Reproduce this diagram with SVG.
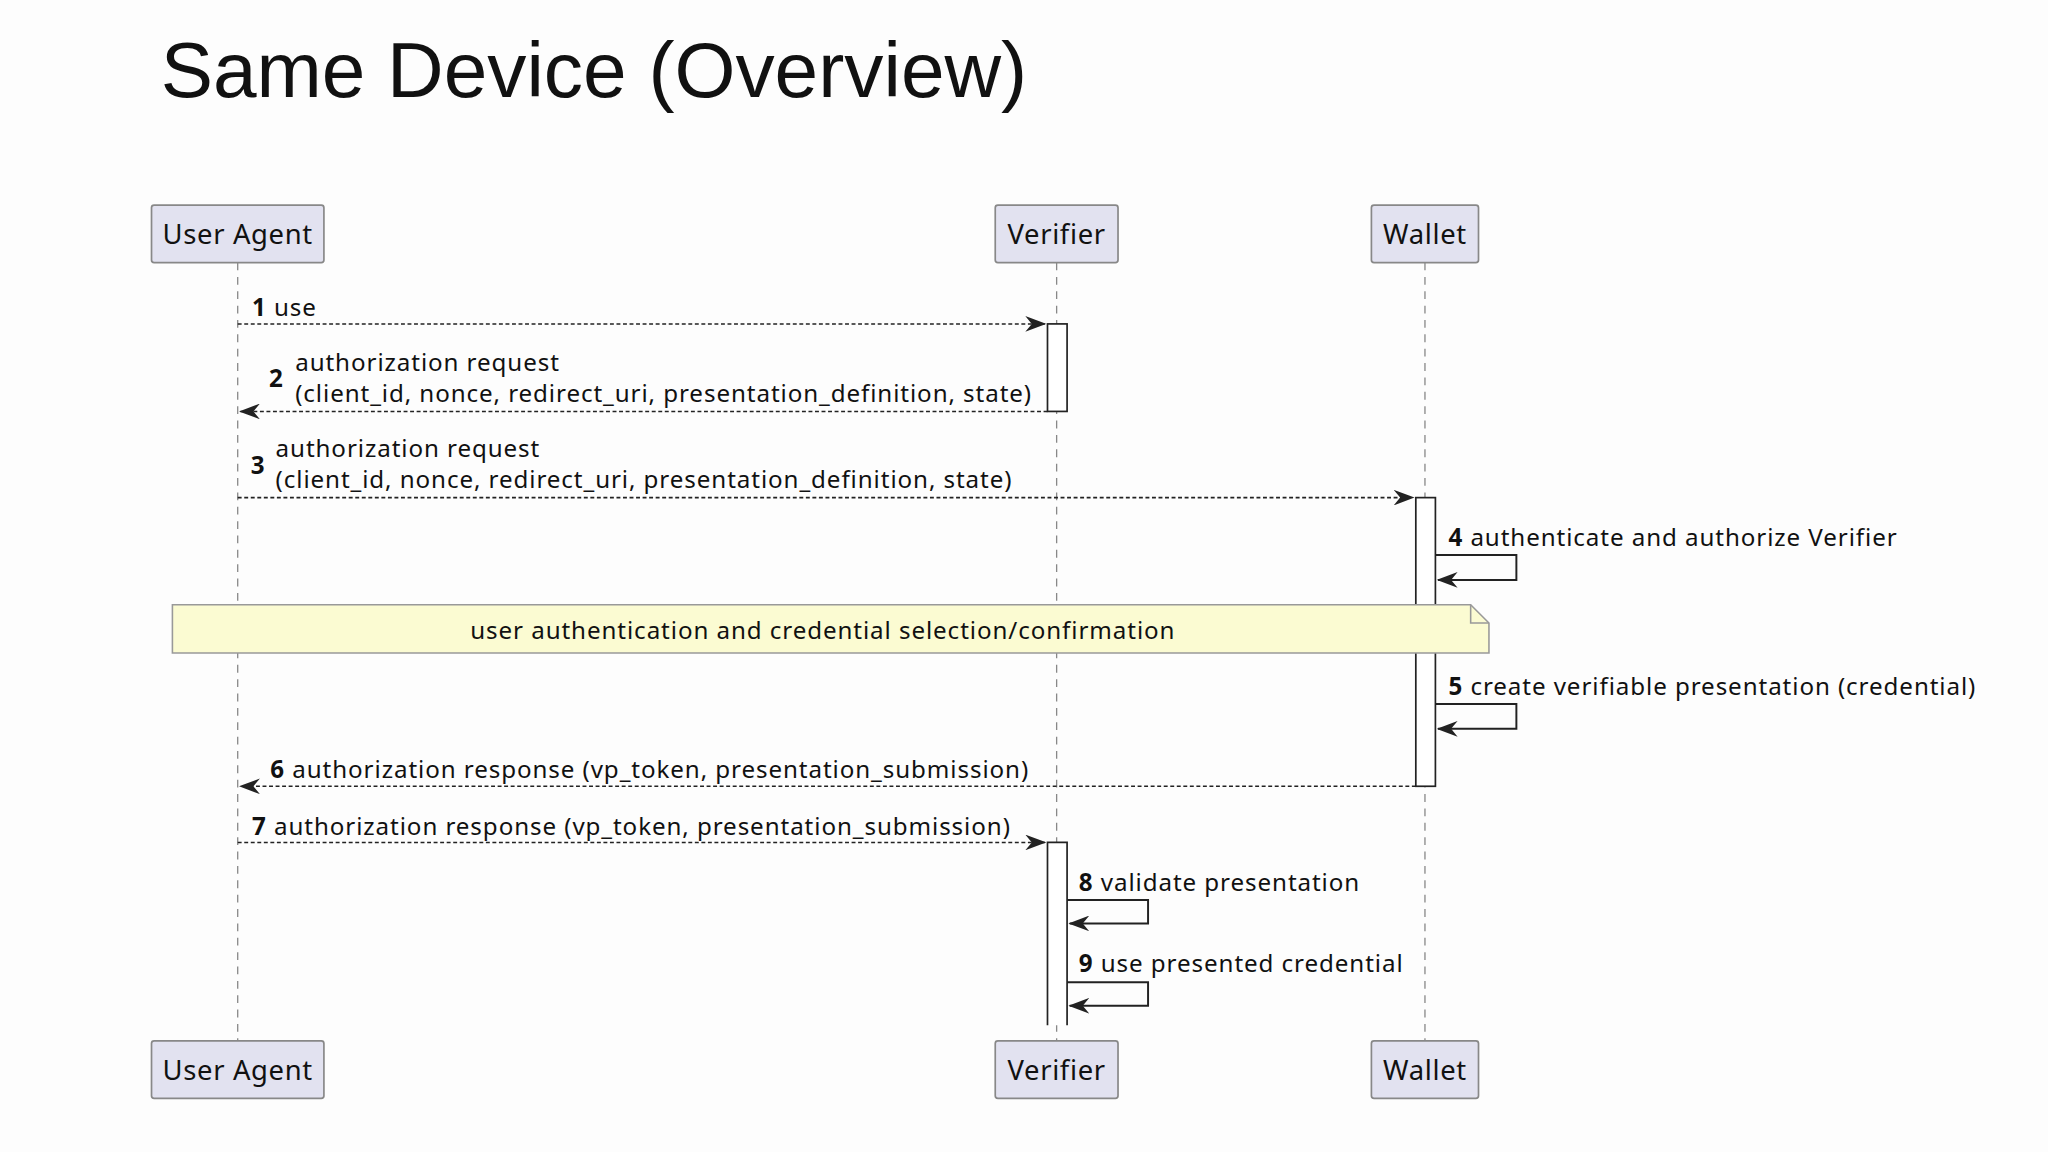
<svg xmlns="http://www.w3.org/2000/svg" width="2048" height="1152" viewBox="0 0 2048 1152">
<defs>
<style>
text{font-family:"Noto Sans","Liberation Sans",Arial,sans-serif;fill:#111}
.t{font-size:18.5px;letter-spacing:0.7px}
.b{font-weight:bold}
.p rect{fill:#e2e2f0;stroke:#888;stroke-width:1.3}
.p text{font-size:21px;text-anchor:middle;letter-spacing:0.5px}
.life{stroke:#888;stroke-width:1;stroke-dasharray:6 5}
.msg{stroke:#222;stroke-width:1.2;stroke-dasharray:3 2;fill:none}
.self{stroke:#222;stroke-width:1.5;fill:none}
.act{fill:#fff;stroke:#222;stroke-width:1.3}
</style>
<marker id="ah" viewBox="0 0 16 12" refX="15" refY="6" markerWidth="16" markerHeight="12" markerUnits="userSpaceOnUse" orient="auto">
<path d="M0,0 L16,6 L0,12 L5,6 Z" fill="#222"/>
</marker>
</defs>
<rect width="2048" height="1152" fill="#fdfdfd"/>
<g transform="scale(1.3061)">
<text x="123" y="74" style="font-family:'Liberation Sans',Arial,sans-serif;font-size:60px">Same Device (Overview)</text>
<g id="lifelines">
<line class="life" x1="182" y1="201" x2="182" y2="797"/>
<line class="life" x1="809" y1="201" x2="809" y2="797"/>
<line class="life" x1="1091" y1="201" x2="1091" y2="797"/>
</g>
<g id="activations">
<rect class="act" x="802" y="248" width="15" height="67"/>
<rect class="act" x="1084" y="381" width="15" height="221"/>
<path class="act" d="M802,785 V645 H817 V785"/>
</g>
<g id="useragent" class="p"><rect x="116" y="157" width="132" height="44" rx="2"/><text x="182" y="187">User Agent</text></g>
<g id="verifier" class="p"><rect x="762" y="157" width="94" height="44" rx="2"/><text x="809" y="187">Verifier</text></g>
<g id="wallet" class="p"><rect x="1050" y="157" width="82" height="44" rx="2"/><text x="1091" y="187">Wallet</text></g>
<g id="useragent-bottom" class="p"><rect x="116" y="797" width="132" height="44" rx="2"/><text x="182" y="827">User Agent</text></g>
<g id="verifier-bottom" class="p"><rect x="762" y="797" width="94" height="44" rx="2"/><text x="809" y="827">Verifier</text></g>
<g id="wallet-bottom" class="p"><rect x="1050" y="797" width="82" height="44" rx="2"/><text x="1091" y="827">Wallet</text></g>
<g id="note">
<path d="M132,463 H1126 L1140,477 V500 H132 Z" fill="#fbfbd2" stroke="#999" stroke-width="1.2"/>
<path d="M1126,463 V477 H1140" fill="none" stroke="#999" stroke-width="1.2"/>
<text class="t" x="630" y="489" text-anchor="middle">user authentication and credential selection/confirmation</text>
</g>
<g id="connectors">
<line class="msg" x1="182" y1="248" x2="800" y2="248" marker-end="url(#ah)"/>
<line class="msg" x1="802" y1="315" x2="184" y2="315" marker-end="url(#ah)"/>
<line class="msg" x1="182" y1="381" x2="1082" y2="381" marker-end="url(#ah)"/>
<path class="self" d="M1099,425 H1161 V444 H1101" marker-end="url(#ah)"/>
<path class="self" d="M1099,539 H1161 V558 H1101" marker-end="url(#ah)"/>
<line class="msg" x1="1084" y1="602" x2="184" y2="602" marker-end="url(#ah)"/>
<line class="msg" x1="182" y1="645" x2="800" y2="645" marker-end="url(#ah)"/>
<path class="self" d="M817,689 H879 V707 H819" marker-end="url(#ah)"/>
<path class="self" d="M817,752 H879 V770 H819" marker-end="url(#ah)"/>
</g>
<g id="labels" class="t">
<text x="193" y="242"><tspan class="b">1</tspan> use</text>
<text x="206" y="296" class="b">2</text>
<text x="226" y="284">authorization request</text>
<text x="226" y="308">(client_id, nonce, redirect_uri, presentation_definition, state)</text>
<text x="192" y="363" class="b">3</text>
<text x="211" y="350">authorization request</text>
<text x="211" y="374">(client_id, nonce, redirect_uri, presentation_definition, state)</text>
<text x="1109" y="418"><tspan class="b">4</tspan> authenticate and authorize Verifier</text>
<text x="1109" y="532"><tspan class="b">5</tspan> create verifiable presentation (credential)</text>
<text x="207" y="596"><tspan class="b">6</tspan> authorization response (vp_token, presentation_submission)</text>
<text x="193" y="639"><tspan class="b">7</tspan> authorization response (vp_token, presentation_submission)</text>
<text x="826" y="682"><tspan class="b">8</tspan> validate presentation</text>
<text x="826" y="744"><tspan class="b">9</tspan> use presented credential</text>
</g>
</g>
</svg>
